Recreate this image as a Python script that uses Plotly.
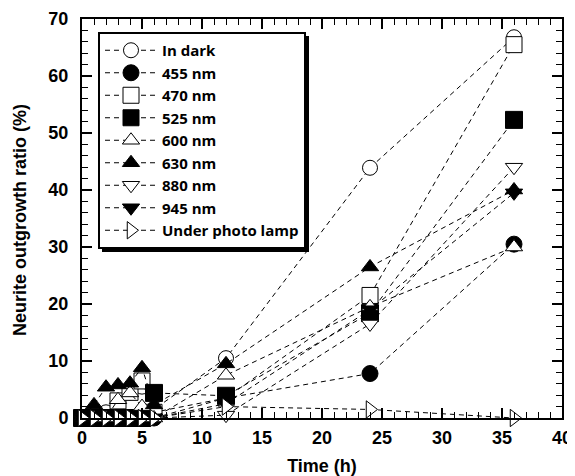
import plotly.graph_objects as go

times = [0, 1, 2, 3, 4, 5, 6, 12, 24, 36]

series_names = ["In dark", "455 nm", "470 nm", "525 nm", "600 nm",
                "630 nm", "880 nm", "945 nm", "Under photo lamp"]

in_dark = [0, 0, 1.0, 2.5, 4.5, 5.5, 1.5, 10.5, 43.9, 66.8]
nm455 = [0, 0, 0, 0, 0, 0, 0, 3.5, 7.8, 30.5]
nm470 = [0, 0, 0, 3.0, 4.5, 6.5, 1.0, 3.5, 21.5, 65.5]
nm525 = [0, 0, 0, 0, 0, 0, 4.4, 3.9, 18.4, 52.3]
nm600 = [0, 0, 0, 3.2, 4.4, 2.0, 0, 7.5, 19.5, 30.0]
nm630 = [0, 2.3, 5.4, 5.8, 6.1, 8.8, 2.3, 9.5, 26.5, 40.0]
nm880 = [0, 0, 0, 0, 0, 0, 0, 0.5, 16.5, 44.0]
nm945 = [0, 0, 0, 0, 0, 0, 0, 2.5, 19.0, 39.5]
photo_lamp = [0, 0, 0, 0, 0, 0, 0, 2.0, 1.5, 0]

values = [in_dark, nm455, nm470, nm525, nm600, nm630, nm880, nm945, photo_lamp]

# (symbol, fill colour, size)
styles = [
    ("circle", "white", 15),
    ("circle", "black", 16),
    ("square", "white", 16),
    ("square", "black", 17),
    ("triangle-up", "white", 15),
    ("triangle-up", "black", 15),
    ("triangle-down", "white", 15),
    ("triangle-down", "black", 15),
    ("triangle-right", "white", 15),
]

FONT = "Liberation Sans, Arial, Helvetica, sans-serif"
LEGEND_FONT = "Open Sans, Liberation Sans, sans-serif"

fig = go.Figure()
for name, vals, (sym, fill, size) in zip(series_names, values, styles):
    fig.add_trace(go.Scatter(
        x=times, y=vals, name=name, mode="lines+markers",
        line=dict(color="black", width=1, dash="5px,4px"),
        marker=dict(symbol=sym, color=fill, size=size,
                    line=dict(color="black", width=1)),
        cliponaxis=False,
    ))

axis_common = dict(
    showgrid=False, zeroline=False, showline=True, linecolor="black",
    linewidth=2, mirror="allticks", ticks="inside", ticklen=10,
    tickwidth=1.5, tickcolor="black", automargin=False,
    tickfont=dict(family=FONT, size=18, color="black", weight="bold"),
)

fig.update_xaxes(
    range=[0, 40], dtick=5, tick0=0, ticklabelstandoff=2,
    minor=dict(dtick=1, ticks="inside", ticklen=6, tickwidth=1.2, tickcolor="black"),
    title=dict(text="Time (h)", font=dict(family=FONT, size=18, color="black", weight="bold")),
    **axis_common,
)
fig.update_yaxes(
    range=[0, 70], dtick=10, tick0=0, ticklabelstandoff=8,
    minor=dict(dtick=2, ticks="inside", ticklen=6, tickwidth=1.2, tickcolor="black"),
    **axis_common,
)

# y-axis title placed as rotated text
fig.add_annotation(
    text="Neurite outgrowth ratio (%)", textangle=-90,
    xref="paper", yref="paper", x=(20 - 82) / 480, y=(418 - 220) / 399,
    xanchor="center", yanchor="middle", showarrow=False,
    font=dict(family=FONT, size=18, color="black", weight="bold"),
)

# legend drop shadow
fig.add_shape(type="rect", xref="paper", yref="paper",
              x0=(102 - 82) / 480, x1=(309 - 82) / 480,
              y0=(418 - 252) / 399, y1=(418 - 36) / 399,
              fillcolor="black", line=dict(width=0), layer="above")

# the page body adds an 8px offset, so the figure is sized to fit the window
fig.update_layout(
    width=567, height=468,
    margin=dict(l=74, r=13, t=11, b=58),
    paper_bgcolor="white", plot_bgcolor="white",
    showlegend=True,
    legend=dict(
        x=(98 - 82) / 480, y=(418 - 32) / 399, xanchor="left", yanchor="top",
        bgcolor="white", bordercolor="black", borderwidth=2,
        font=dict(family=LEGEND_FONT, size=15, color="black", weight="bold"),
        itemwidth=52, tracegroupgap=0,
    ),
)

fig.write_html("out.html")
